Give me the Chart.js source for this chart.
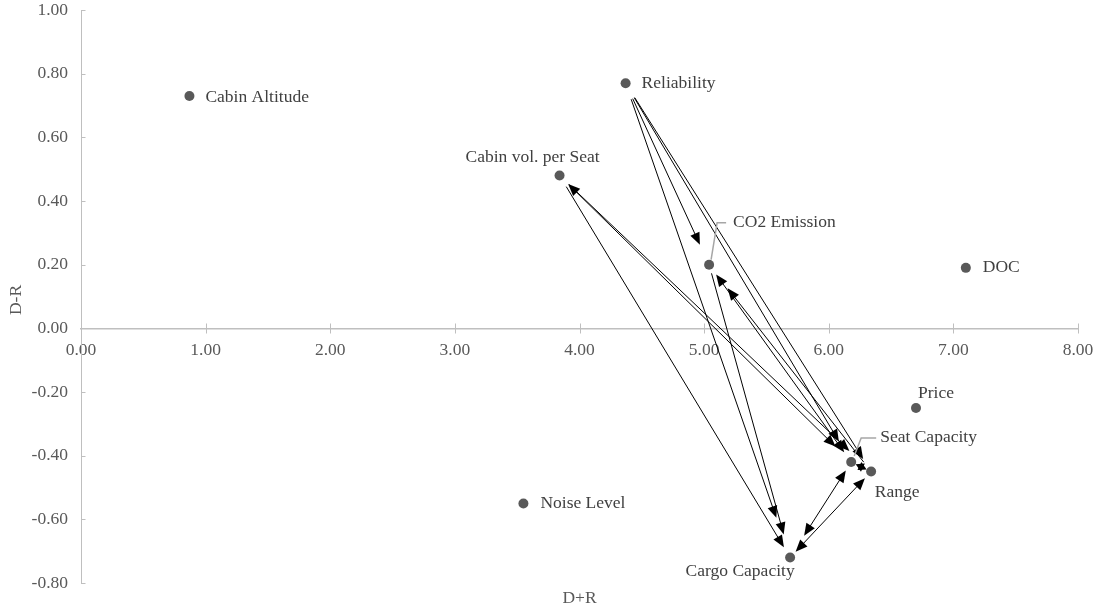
<!DOCTYPE html>
<html>
<head>
<meta charset="utf-8">
<script src="https://cdn.jsdelivr.net/npm/chart.js@4.4.1/dist/chart.umd.min.js"></script>
<style>
  html, body { margin: 0; padding: 0; background: #fff; }
  #wrap { width: 1093px; height: 608px; position: relative; }
</style>
</head>
<body>
<div id="wrap"><canvas id="chart"></canvas></div>
<script>
// factors plotted as (D+R, D-R)
const factors = ["Cabin Altitude", "Reliability", "Cabin vol. per Seat", "CO2 Emission", "DOC",
                 "Price", "Seat Capacity", "Range", "Cargo Capacity", "Noise Level"];
const dPlusR  = [0.87, 4.37, 3.84, 5.04, 7.10, 6.70, 6.18, 6.34, 5.69, 3.55];
const dMinusR = [0.73, 0.77, 0.48, 0.20, 0.19, -0.25, -0.42, -0.45, -0.72, -0.55];

const xTicks = [0, 1, 2, 3, 4, 5, 6, 7, 8];
const yTicks = [-0.8, -0.6, -0.4, -0.2, 0, 0.2, 0.4, 0.6, 0.8, 1.0];

// influence arrows (from -> to), both = arrow heads at both ends
const arrowFrom = ["Reliability", "Reliability", "Reliability", "Reliability", "CO2 Emission",
                   "Cabin vol. per Seat", "Cabin vol. per Seat", "Cabin vol. per Seat", "CO2 Emission",
                   "Range", "Seat Capacity", "Seat Capacity", "Range"];
const arrowTo   = ["CO2 Emission", "Seat Capacity", "Range", "Cargo Capacity", "Cargo Capacity",
                   "Seat Capacity", "Range", "Cargo Capacity", "Seat Capacity",
                   "CO2 Emission", "Range", "Cargo Capacity", "Cargo Capacity"];
const arrowBoth = [false, false, false, false, false,
                   true, false, false, true,
                   false, true, true, true];

// drawing gaps in px at the start / end of each arrow (style only)
const arrowGap = [[17, 22], [17, 24], [17, 15], [17, 42], [9, 24],
                  [12, 22], [13, 30], [13, 12], [12, 12],
                  [12, 30], [5, 5], [10, 26], [9, 8]];

// label placement (style only)
const labelStyle = {
  "Cabin Altitude":      {dx: 16, dy: 1, align: "left"},
  "Reliability":         {dx: 16, dy: 0, align: "left"},
  "Cabin vol. per Seat": {dx: -27, dy: -18, align: "center"},
  "CO2 Emission":        {dx: 24, dy: -42, align: "left", leader: [[2, -5], [8, -42], [17, -42]]},
  "DOC":                 {dx: 17, dy: 0, align: "left"},
  "Price":               {dx: 20, dy: -15, align: "center"},
  "Seat Capacity":       {dx: 29, dy: -25, align: "left", leader: [[3, -6], [10, -24], [25, -24]]},
  "Range":               {dx: 26, dy: 21, align: "center"},
  "Cargo Capacity":      {dx: -50, dy: 14, align: "center"},
  "Noise Level":         {dx: 17, dy: 0, align: "left"}
};

const points = factors.map((f, i) => ({x: dPlusR[i], y: dMinusR[i], name: f}));
const idx = name => factors.indexOf(name);

const serif = "'Liberation Serif', 'Times New Roman', serif";

const arrowPlugin = {
  id: "arrows",
  beforeDatasetsDraw(chart) {
    const {ctx, scales: {x, y}} = chart;
    ctx.save();
    ctx.strokeStyle = "#000";
    ctx.fillStyle = "#000";
    const head = (tx, ty, ux, uy, len, w) => {
      ctx.beginPath();
      ctx.moveTo(tx, ty);
      ctx.lineTo(tx - ux * len - uy * w, ty - uy * len + ux * w);
      ctx.lineTo(tx - ux * len + uy * w, ty - uy * len - ux * w);
      ctx.closePath();
      ctx.fill();
    };
    arrowFrom.forEach((from, k) => {
      const a = idx(from), b = idx(arrowTo[k]);
      const x1 = x.getPixelForValue(dPlusR[a]), y1 = y.getPixelForValue(dMinusR[a]);
      const x2 = x.getPixelForValue(dPlusR[b]), y2 = y.getPixelForValue(dMinusR[b]);
      const dist = Math.hypot(x2 - x1, y2 - y1);
      const ux = (x2 - x1) / dist, uy = (y2 - y1) / dist;
      const short = dist < 60;
      const [g1, g2] = arrowGap[k];
      const len = short ? 8 : 12, w = short ? 4.5 : 5;
      const sx = x1 + ux * g1, sy = y1 + uy * g1;
      const ex = x2 - ux * g2, ey = y2 - uy * g2;
      ctx.lineWidth = short ? 2 : 1;
      ctx.beginPath();
      ctx.moveTo(sx + (arrowBoth[k] ? ux * len * 0.8 : 0), sy + (arrowBoth[k] ? uy * len * 0.8 : 0));
      ctx.lineTo(ex - ux * len * 0.8, ey - uy * len * 0.8);
      ctx.stroke();
      head(ex, ey, ux, uy, len, w);
      if (arrowBoth[k]) head(sx, sy, -ux, -uy, len, w);
    });
    ctx.restore();
  },
  afterDatasetsDraw(chart) {
    const {ctx, scales: {x, y}, chartArea} = chart;
    ctx.save();
    // axis tick marks
    ctx.strokeStyle = "#bfbfbf";
    ctx.lineWidth = 1;
    const y0 = Math.round(y.getPixelForValue(0)) + 0.5;
    xTicks.forEach(v => {
      const px = Math.round(x.getPixelForValue(v)) + 0.5;
      ctx.beginPath(); ctx.moveTo(px, y0 - 5); ctx.lineTo(px, y0 + 5); ctx.stroke();
    });
    const xl = Math.round(chartArea.left) + 0.5;
    yTicks.forEach(v => {
      const py = Math.round(y.getPixelForValue(v)) + 0.5;
      ctx.beginPath(); ctx.moveTo(xl, py); ctx.lineTo(xl + 4, py); ctx.stroke();
    });
    // point labels
    ctx.font = "17.5px " + serif;
    ctx.textBaseline = "middle";
    factors.forEach((f, i) => {
      const s = labelStyle[f];
      const px = x.getPixelForValue(dPlusR[i]), py = y.getPixelForValue(dMinusR[i]);
      if (s.leader) {
        ctx.strokeStyle = "#a6a6a6";
        ctx.lineWidth = 1.5;
        ctx.beginPath();
        s.leader.forEach(([lx, ly], j) => j ? ctx.lineTo(px + lx, py + ly) : ctx.moveTo(px + lx, py + ly));
        ctx.stroke();
      }
      ctx.fillStyle = "#404040";
      ctx.textAlign = s.align;
      ctx.fillText(f, px + s.dx, py + s.dy);
    });
    // axis titles
    ctx.fillStyle = "#595959";
    ctx.font = "17.5px " + serif;
    ctx.textAlign = "center";
    ctx.fillText("D+R", (chartArea.left + chartArea.right) / 2, 598);
    ctx.translate(16, 300);
    ctx.rotate(-Math.PI / 2);
    ctx.fillText("D-R", 0, 0);
    ctx.restore();
  }
};

const noPad = s => { s.paddingLeft = 0; s.paddingRight = 0; s.paddingTop = 0; s.paddingBottom = 0; };

new Chart(document.getElementById("chart"), {
  type: "scatter",
  data: {
    datasets: [{
      data: points,
      pointRadius: 5,
      pointHoverRadius: 5,
      pointBackgroundColor: "#595959",
      pointBorderWidth: 0
    }]
  },
  options: {
    responsive: true,
    maintainAspectRatio: false,
    animation: false,
    layout: {padding: {left: 0, top: 10, right: 15, bottom: 25}},
    plugins: {legend: {display: false}, tooltip: {enabled: false}},
    scales: {
      x: {
        type: "linear",
        position: {y: 0},
        min: 0, max: 8,
        afterBuildTicks: s => { s.ticks = xTicks.map(v => ({value: v})); },
        afterFit: noPad,
        grid: {display: false},
        border: {display: true, color: "#bfbfbf", width: 1.5},
        ticks: {
          padding: 4,
          color: "#595959",
          font: {family: serif, size: 17.5},
          callback: v => v.toFixed(2)
        }
      },
      y: {
        type: "linear",
        min: -0.8, max: 1.0,
        afterBuildTicks: s => { s.ticks = yTicks.map(v => ({value: v})); },
        afterFit: s => { noPad(s); s.width = 81; },
        grid: {display: false},
        border: {display: true, color: "#bfbfbf", width: 1},
        ticks: {
          padding: 5,
          color: "#595959",
          font: {family: serif, size: 17.5},
          callback: v => v.toFixed(2)
        }
      }
    }
  },
  plugins: [arrowPlugin]
});
</script>
</body>
</html>
